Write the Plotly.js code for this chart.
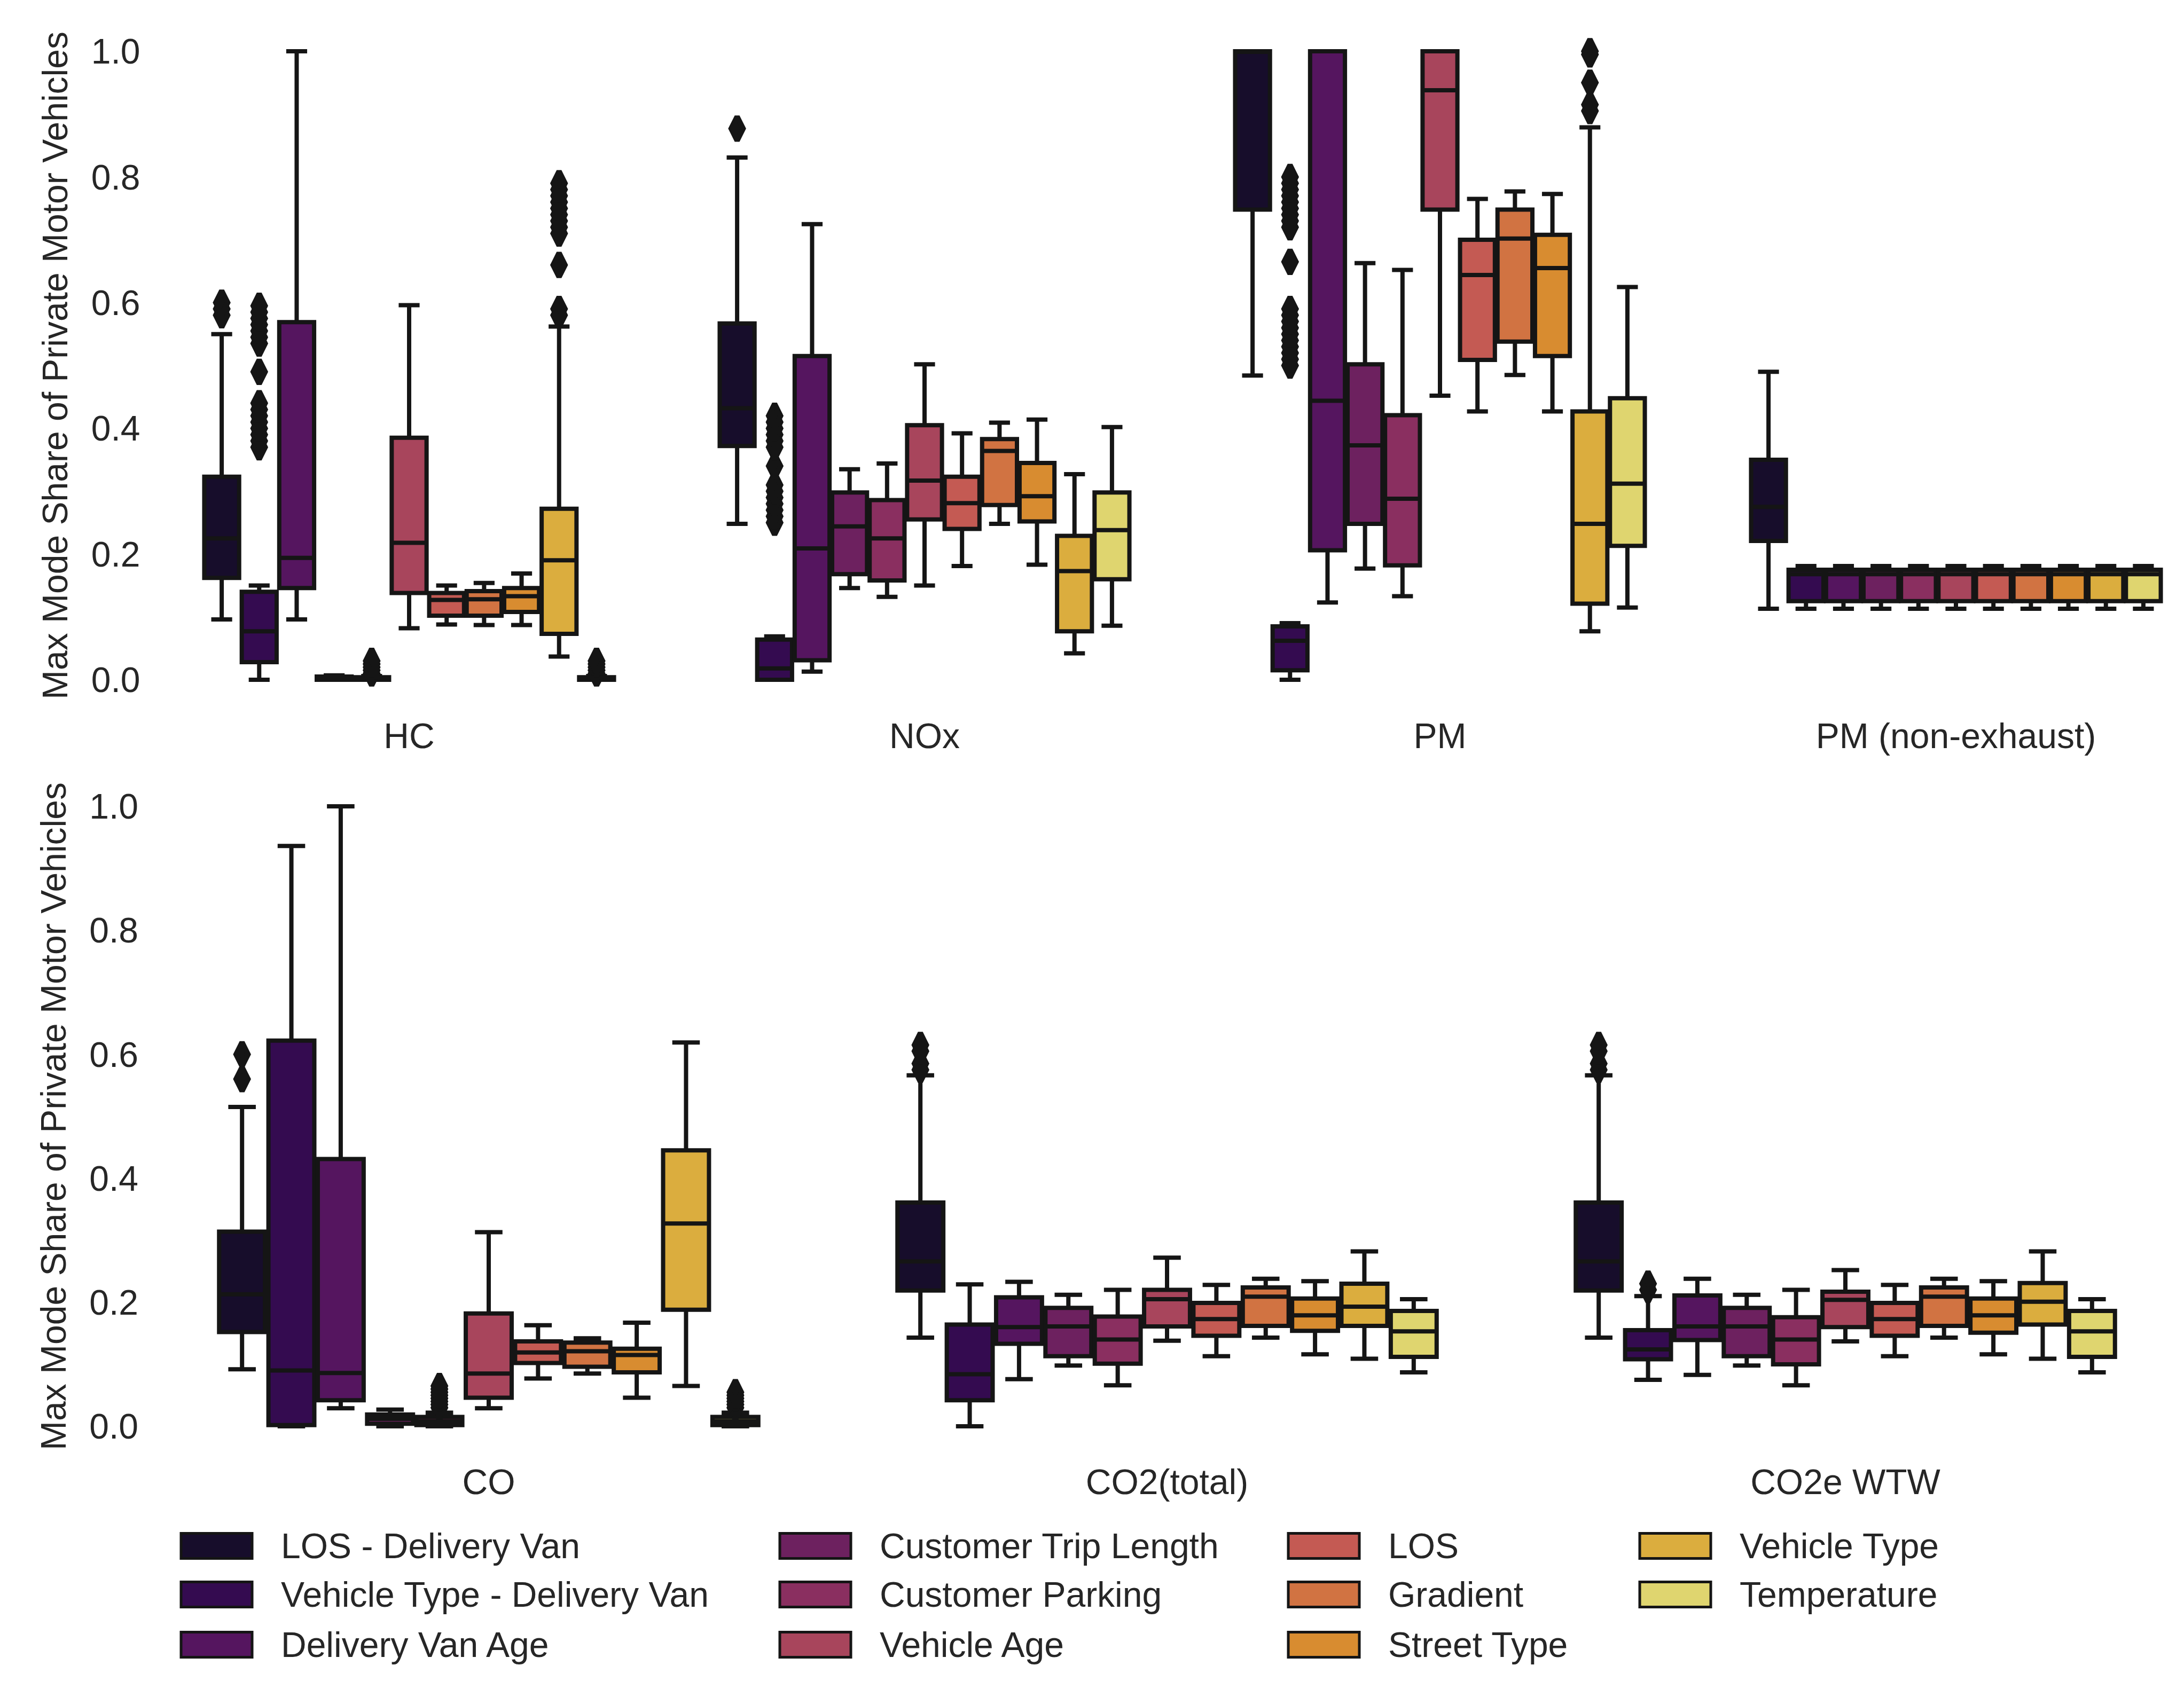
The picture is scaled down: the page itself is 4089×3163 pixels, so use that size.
<!DOCTYPE html>
<html>
<head>
<meta charset="utf-8">
<script src="https://cdn.plot.ly/plotly-3.0.1.min.js"></script>
<style>html,body{margin:0;padding:0;background:#fff;}</style>
</head>
<body>
<div id="chart" style="width:4089px;height:3163px;"></div>
<script>
// ---------------- DATA ----------------
const PANELS = ['HC', 'NOx', 'PM', 'PM (non-exhaust)', 'CO', 'CO2(total)', 'CO2e WTW'];
const FACTORS = ['LOS - Delivery Van', 'Vehicle Type - Delivery Van', 'Delivery Van Age',
  'Customer Trip Length', 'Customer Parking', 'Vehicle Age', 'LOS', 'Gradient',
  'Street Type', 'Vehicle Type', 'Temperature'];
const COLORS = ['#170d2b', '#340b50', '#55155f', '#6d215f', '#8a2f60', '#a8455c',
  '#c45a53', '#d17342', '#d88c30', '#dbad3e', '#dfd56f'];
const Y_TICKS = [0, 0.2, 0.4, 0.6, 0.8, 1.0];
const Y_TITLE = 'Max Mode Share of Private Motor Vehicles';

// rows: panels in PANELS order; columns: factors in FACTORS order
const Q1 = [
  [0.162, 0.028, 0.146, 0.000, 0.000, 0.138, 0.102, 0.102, 0.108, 0.073, 0.000],
  [0.372, 0.000, 0.031, 0.168, 0.158, 0.255, 0.240, 0.278, 0.252, 0.077, 0.160],
  [0.748, 0.015, 0.206, 0.248, 0.182, 0.748, 0.509, 0.538, 0.515, 0.121, 0.213],
  [0.221, 0.125, 0.125, 0.125, 0.125, 0.125, 0.125, 0.125, 0.125, 0.125, 0.125],
  [0.152, 0.002, 0.042, 0.004, 0.002, 0.046, 0.102, 0.096, 0.087, 0.188, 0.002],
  [0.219, 0.042, 0.133, 0.113, 0.101, 0.161, 0.146, 0.162, 0.154, 0.162, 0.112],
  [0.219, 0.108, 0.139, 0.113, 0.100, 0.160, 0.146, 0.162, 0.151, 0.164, 0.112]
];
const MEDIAN = [
  [0.225, 0.077, 0.194, 0.002, 0.002, 0.218, 0.127, 0.128, 0.133, 0.190, 0.002],
  [0.432, 0.018, 0.209, 0.244, 0.225, 0.317, 0.281, 0.364, 0.292, 0.173, 0.238],
  [1.000, 0.062, 0.444, 0.373, 0.288, 0.938, 0.644, 0.702, 0.655, 0.248, 0.312],
  [0.275, 0.168, 0.168, 0.168, 0.168, 0.168, 0.168, 0.168, 0.168, 0.168, 0.168],
  [0.213, 0.090, 0.086, 0.012, 0.008, 0.085, 0.119, 0.121, 0.115, 0.327, 0.008],
  [0.266, 0.084, 0.160, 0.161, 0.140, 0.205, 0.173, 0.209, 0.179, 0.193, 0.153],
  [0.266, 0.124, 0.161, 0.161, 0.140, 0.204, 0.173, 0.209, 0.179, 0.201, 0.153]
];
const Q3 = [
  [0.323, 0.140, 0.569, 0.005, 0.004, 0.385, 0.138, 0.141, 0.146, 0.272, 0.004],
  [0.567, 0.064, 0.515, 0.298, 0.286, 0.405, 0.323, 0.383, 0.345, 0.229, 0.298],
  [1.000, 0.085, 1.000, 0.502, 0.421, 1.000, 0.700, 0.748, 0.708, 0.427, 0.448],
  [0.350, 0.175, 0.175, 0.175, 0.175, 0.175, 0.175, 0.175, 0.175, 0.175, 0.175],
  [0.314, 0.622, 0.431, 0.019, 0.015, 0.182, 0.137, 0.135, 0.125, 0.445, 0.015],
  [0.361, 0.164, 0.208, 0.191, 0.177, 0.220, 0.199, 0.224, 0.206, 0.230, 0.186],
  [0.361, 0.155, 0.211, 0.191, 0.176, 0.217, 0.199, 0.224, 0.206, 0.231, 0.186]
];
const LOWER_WHISKER = [
  [0.096, 0.000, 0.096, 0.000, 0.000, 0.082, 0.088, 0.087, 0.087, 0.037, 0.000],
  [0.248, 0.000, 0.013, 0.146, 0.132, 0.150, 0.181, 0.248, 0.183, 0.042, 0.086],
  [0.484, 0.000, 0.123, 0.177, 0.133, 0.452, 0.427, 0.485, 0.427, 0.077, 0.115],
  [0.113, 0.113, 0.113, 0.113, 0.113, 0.113, 0.113, 0.113, 0.113, 0.113, 0.113],
  [0.092, 0.000, 0.029, 0.000, 0.000, 0.029, 0.077, 0.085, 0.046, 0.065, 0.000],
  [0.143, 0.000, 0.076, 0.098, 0.066, 0.138, 0.113, 0.143, 0.116, 0.109, 0.087],
  [0.143, 0.075, 0.083, 0.098, 0.066, 0.137, 0.113, 0.143, 0.116, 0.109, 0.087]
];
const UPPER_WHISKER = [
  [0.550, 0.150, 1.000, 0.007, 0.006, 0.596, 0.150, 0.154, 0.169, 0.562, 0.006],
  [0.831, 0.069, 0.725, 0.335, 0.344, 0.502, 0.392, 0.409, 0.414, 0.327, 0.402],
  [1.000, 0.090, 1.000, 0.663, 0.652, 1.000, 0.765, 0.777, 0.773, 0.879, 0.625],
  [0.490, 0.181, 0.181, 0.181, 0.181, 0.181, 0.181, 0.181, 0.181, 0.181, 0.181],
  [0.515, 0.936, 1.000, 0.027, 0.022, 0.313, 0.163, 0.142, 0.167, 0.619, 0.022],
  [0.566, 0.229, 0.233, 0.212, 0.220, 0.272, 0.228, 0.238, 0.234, 0.282, 0.205],
  [0.566, 0.210, 0.238, 0.212, 0.220, 0.252, 0.228, 0.238, 0.234, 0.282, 0.205]
];
const OUTLIERS = [
  [[0.58, 0.59, 0.60],
   [0.37, 0.38, 0.39, 0.40, 0.41, 0.42, 0.43, 0.44, 0.49, 0.535, 0.545, 0.555, 0.565, 0.575, 0.585, 0.595],
   [], [], [0.01, 0.015, 0.02, 0.025, 0.03], [], [], [], [],
   [0.58, 0.59, 0.66, 0.71, 0.72, 0.73, 0.74, 0.75, 0.76, 0.77, 0.78, 0.79],
   [0.01, 0.015, 0.02, 0.025, 0.03]],
  [[0.877],
   [0.25, 0.26, 0.27, 0.28, 0.29, 0.30, 0.31, 0.34, 0.37, 0.38, 0.39, 0.40, 0.41, 0.42],
   [], [], [], [], [], [], [], [], []],
  [[],
   [0.50, 0.51, 0.52, 0.53, 0.54, 0.55, 0.56, 0.57, 0.58, 0.59, 0.665, 0.72, 0.73, 0.74, 0.75, 0.76, 0.77, 0.78, 0.79, 0.80],
   [], [], [], [], [], [], [], [0.905, 0.915, 0.95, 0.995, 1.0], []],
  [[], [], [], [], [], [], [], [], [], [], []],
  [[0.56, 0.60], [], [], [], [0.03, 0.035, 0.04, 0.045, 0.05, 0.055, 0.06, 0.065],
   [], [], [], [], [], [0.03, 0.035, 0.04, 0.045, 0.05, 0.055]],
  [[0.575, 0.585, 0.605, 0.615], [], [], [], [], [], [], [], [], [], []],
  [[0.575, 0.585, 0.605, 0.615], [0.22, 0.23], [], [], [], [], [], [], [], [], []]
];

// ---------------- LAYOUT GEOMETRY (pixels) ----------------
const W = 4089, H = 3163;
const FONT = 'Liberation Sans, Arial, Helvetica, sans-serif';
const TXT = '#262626';
const EDGE = '#151515';
const FS = 66;
const LW = 8;
// per panel: centre x, width, pixel of y=0, pixel of y=1
const GEOM = [
  {c: 766,  w: 965,  p0: 1273, p1: 96,   row: 0},
  {c: 1731, w: 965,  p0: 1273, p1: 96,   row: 0},
  {c: 2696, w: 965,  p0: 1273, p1: 96,   row: 0},
  {c: 3662, w: 965,  p0: 1273, p1: 96,   row: 0},
  {c: 915,  w: 1270, p0: 2671, p1: 1510, row: 1},
  {c: 2185, w: 1270, p0: 2671, p1: 1510, row: 1},
  {c: 3455, w: 1270, p0: 2671, p1: 1510, row: 1}
];
const YPAD = 0.05;
const NF = FACTORS.length;
const GROUP = 0.8;
const slot = GROUP / NF;
const xPos = i => -GROUP / 2 + (i + 0.5) * slot;

const layout = {
  width: W, height: H,
  margin: {l: 0, r: 0, t: 0, b: 0, pad: 0},
  paper_bgcolor: '#ffffff', plot_bgcolor: '#ffffff',
  showlegend: false,
  boxmode: 'overlay',
  font: {family: FONT, size: FS, color: TXT},
  shapes: [], annotations: []
};

function yDomain(g) {
  const span = g.p0 - g.p1;
  const bottom = g.p0 + YPAD * span, top = g.p1 - YPAD * span;
  return [1 - bottom / H, 1 - top / H];
}

GEOM.forEach((g, p) => {
  const left = g.c - g.w / 2, right = g.c + g.w / 2;
  const lc = Math.max(0, left), rc = Math.min(W, right);
  const key = 'xaxis' + (p === 0 ? '' : p + 1);
  layout[key] = {
    domain: [lc / W, rc / W],
    range: [-0.5 + (lc - left) / g.w, 0.5 - (right - rc) / g.w],
    anchor: g.row === 0 ? 'y' : 'y2',
    tickmode: 'array', tickvals: [0], ticktext: [PANELS[p]],
    showgrid: false, zeroline: false, showline: false, ticks: '',
    tickfont: {family: FONT, size: FS, color: TXT},
    ticklabelstandoff: 2,
    fixedrange: true
  };
});

[0, 1].forEach(r => {
  const g = GEOM[r === 0 ? 0 : 4];
  const key = r === 0 ? 'yaxis' : 'yaxis2';
  layout[key] = {
    domain: yDomain(g),
    range: [-YPAD, 1 + YPAD],
    anchor: r === 0 ? 'x' : 'x5',
    tickmode: 'array', tickvals: Y_TICKS,
    ticktext: Y_TICKS.map(v => v.toFixed(1)),
    showgrid: false, zeroline: false, showline: false, ticks: '',
    tickfont: {family: FONT, size: FS, color: TXT},
    ticklabelstandoff: 20,
    title: {text: Y_TITLE, font: {family: FONT, size: FS, color: TXT}, standoff: 22},
    fixedrange: true
  };
});

// ---------------- TRACES ----------------
const traces = [];
PANELS.forEach((name, p) => {
  const xa = 'x' + (p === 0 ? '' : p + 1);
  const ya = GEOM[p].row === 0 ? 'y' : 'y2';
  FACTORS.forEach((f, i) => {
    traces.push({
      type: 'box', name: f, legendgroup: f,
      x: [xPos(i)],
      q1: [Q1[p][i]], median: [MEDIAN[p][i]], q3: [Q3[p][i]],
      lowerfence: [LOWER_WHISKER[p][i]], upperfence: [UPPER_WHISKER[p][i]],
      boxpoints: false,
      width: slot * 0.93,
      whiskerwidth: 0.6,
      fillcolor: COLORS[i],
      line: {color: EDGE, width: LW},
      xaxis: xa, yaxis: ya,
      hoverinfo: 'skip', showlegend: false
    });
  });
  const ox = [], oy = [];
  OUTLIERS[p].forEach((vals, i) => vals.forEach(v => { ox.push(xPos(i)); oy.push(v); }));
  if (ox.length) {
    traces.push({
      type: 'scatter', mode: 'markers', x: ox, y: oy,
      marker: {symbol: 'diamond-tall', size: 32, color: EDGE, line: {color: EDGE, width: 10}},
      xaxis: xa, yaxis: ya, hoverinfo: 'skip', showlegend: false
    });
  }
});

// ---------------- LEGEND (swatches + labels) ----------------
const LEG_X = [339, 1460, 2412, 3070];
const LEG_Y = [2895, 2986, 3080];
const SW_W = 133, SW_H = 47, TXT_GAP = 185;
FACTORS.forEach((f, i) => {
  const col = Math.floor(i / 3), row = i % 3;
  const x0 = LEG_X[col], yc = LEG_Y[row];
  layout.shapes.push({
    type: 'rect', xref: 'paper', yref: 'paper',
    x0: x0 / W, x1: (x0 + SW_W) / W,
    y0: 1 - (yc + SW_H / 2) / H, y1: 1 - (yc - SW_H / 2) / H,
    fillcolor: COLORS[i], line: {color: EDGE, width: 5}
  });
  layout.annotations.push({
    xref: 'paper', yref: 'paper', x: (x0 + TXT_GAP) / W, y: 1 - yc / H,
    xanchor: 'left', yanchor: 'middle', showarrow: false, text: f,
    font: {family: FONT, size: FS, color: TXT}
  });
});

Plotly.newPlot('chart', traces, layout, {staticPlot: true, displayModeBar: false});
</script>
</body>
</html>
